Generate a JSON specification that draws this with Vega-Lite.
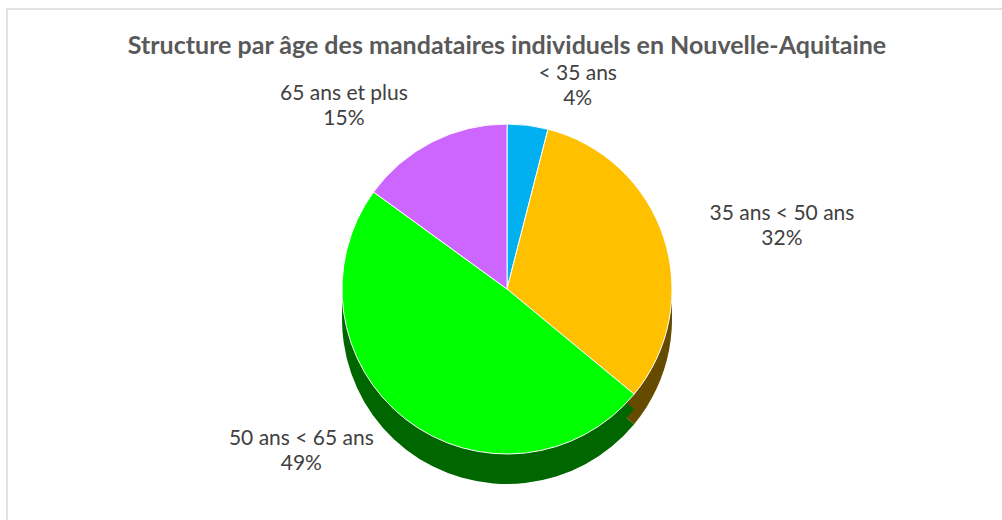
{
  "$schema": "https://vega.github.io/schema/vega-lite/v6.json",
  "width": 1000,
  "height": 520,
  "autosize": {"type": "none"},
  "padding": {"left": 7, "top": 9, "right": 0, "bottom": 0},
  "background": "white",
  "view": {"stroke": "#d9d9d9", "strokeWidth": 1.5},
  "title": {
    "text": "Structure par âge des mandataires individuels en Nouvelle-Aquitaine",
    "font": "Lato",
    "fontSize": 25,
    "fontWeight": "bold",
    "color": "#595959",
    "anchor": "middle",
    "offset": -50
  },
  "config": {
    "view": {"stroke": "#d9d9d9", "strokeWidth": 1.5},
    "font": "Lato"
  },
  "data": {
    "values": [
      {"tranche": "< 35 ans", "part": 0.04, "rang": 1},
      {"tranche": "35 ans < 50 ans", "part": 0.32, "rang": 2},
      {"tranche": "50 ans < 65 ans", "part": 0.49, "rang": 3},
      {"tranche": "65 ans et plus", "part": 0.15, "rang": 4}
    ]
  },
  "encoding": {
    "theta": {"field": "part", "type": "quantitative", "stack": true},
    "order": {"field": "rang", "type": "quantitative"}
  },
  "layer": [
    {
      "mark": {"type": "arc", "outerRadius": 165, "yOffset": 50},
      "encoding": {
        "color": {"field": "tranche", "type": "nominal", "legend": null,
          "scale": {"domain": ["< 35 ans", "35 ans < 50 ans", "50 ans < 65 ans", "65 ans et plus"],
                    "range": ["#00587A", "#654B00", "#006600", "#663380"]}}
      }
    },
    {
      "mark": {"type": "arc", "outerRadius": 165, "yOffset": 35},
      "encoding": {
        "color": {"field": "tranche", "type": "nominal", "legend": null,
          "scale": {"domain": ["< 35 ans", "35 ans < 50 ans", "50 ans < 65 ans", "65 ans et plus"],
                    "range": ["#00587A", "#654B00", "#006600", "#663380"]}}
      }
    },
    {
      "mark": {"type": "arc", "outerRadius": 165, "yOffset": 20, "stroke": "white", "strokeWidth": 1},
      "encoding": {
        "color": {"field": "tranche", "type": "nominal", "legend": null,
          "scale": {"domain": ["< 35 ans", "35 ans < 50 ans", "50 ans < 65 ans", "65 ans et plus"],
                    "range": ["#00B0F0", "#FFC000", "#00FF00", "#CC66FF"]}}
      }
    },
    {
      "mark": {"type": "text", "radius": 205, "yOffset": 20, "dy": -12, "fontSize": 21, "color": "#404040",
        "dx": {"expr": "datum.rang == 1 ? 45 : datum.rang == 2 ? 80 : datum.rang == 3 ? -80 : -70"}},
      "encoding": {"text": {"field": "tranche", "type": "nominal"}}
    },
    {
      "mark": {"type": "text", "radius": 205, "yOffset": 20, "dy": 13, "fontSize": 21, "color": "#404040",
        "dx": {"expr": "datum.rang == 1 ? 45 : datum.rang == 2 ? 80 : datum.rang == 3 ? -80 : -70"}},
      "encoding": {"text": {"field": "part", "type": "quantitative", "format": ".0%"}}
    }
  ],
  "resolve": {"scale": {"color": "independent"}}
}
